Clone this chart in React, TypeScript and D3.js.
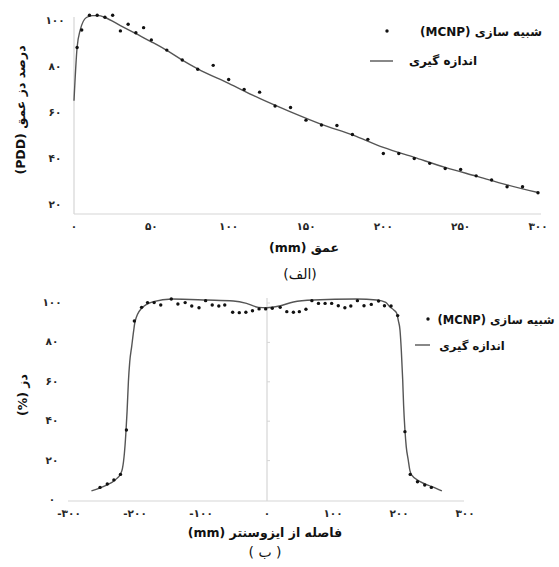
import React from "react";
import * as d3 from "d3";

// ---- Data: (الف) PDD ----
const topDepthMeas = [0, 2, 4, 8, 12, 16, 20, 30, 40, 50, 60, 70, 80, 100, 120, 140, 160, 180, 200, 220, 240, 260, 280, 300];
const topPddMeas = [64, 87, 94.5, 100, 100.8, 100.8, 100, 96.5, 93, 89.5, 85.8, 81.6, 77.8, 71.5, 65, 59.2, 53.8, 49.2, 43.8, 39.5, 35.2, 31.4, 27.6, 24.3];
const topDepthSim = [2, 5, 10, 15, 20, 25, 30, 35, 40, 45, 50, 60, 70, 80, 90, 100, 110, 120, 130, 140, 150, 160, 170, 180, 190, 200, 210, 220, 230, 240, 250, 260, 270, 280, 290, 300];
const topPddSim = [87, 94.6, 101, 101, 100.1, 101, 94.2, 97.1, 93.4, 95.6, 90.3, 85.9, 81.6, 77.6, 79.3, 73.2, 68.9, 67.7, 61.7, 61.1, 55.6, 53.5, 53.3, 49.4, 47.3, 41.2, 41.2, 39, 36.9, 34.7, 34.3, 31.5, 29.7, 26.8, 26.8, 24.2];
const topXTicks = [0, 50, 100, 150, 200, 250, 300];
const topYTicks = [20, 40, 60, 80, 100];

// ---- Data: (ب) profile ----
const profPosMeas = [-266, -243, -230, -222, -219, -216, -214, -212, -210, -208, -205, -202, -200, -190, -172, -144, -91, -51, -31, -13, 0, 19, 40, 70, 136, 166, 180, 186, 192, 196.5, 199, 201.5, 203.5, 205.6, 207, 209, 211, 214, 216.5, 219, 232, 250, 265];
const profDoseMeas = [4.6, 7.6, 10.2, 13.2, 16, 24, 33, 45, 60, 70, 78, 86, 90.5, 97.3, 100.7, 102, 101.5, 101, 99.8, 97.8, 97.6, 98.5, 100.5, 101.5, 102, 101.5, 100.3, 98.1, 96.5, 94.8, 91, 86.3, 76, 61, 48, 35.5, 27, 20.3, 15, 12.7, 9.3, 6.8, 4.6];
const profPosSim = [-253, -242, -232, -222, -213, -201, -190, -181, -171, -161, -145, -135, -124, -114, -103, -93, -83, -73, -64, -52, -42, -32, -22, -12, -2, 8, 20, 30, 40, 49, 59, 68, 78, 88, 98, 108, 118, 127, 137, 147, 158, 169, 178, 188, 198, 209, 217, 228, 239, 249];
const profDoseSim = [6.4, 8.1, 10.2, 13, 35.5, 90.9, 97.8, 100.2, 100.2, 99, 102, 99.5, 100.2, 98.5, 97.6, 101.2, 99, 98.5, 99, 95.3, 95.1, 95.3, 96.1, 97, 97, 97.3, 97.8, 95.6, 95.3, 95.6, 96.8, 101.2, 99.8, 99.8, 99.8, 98.6, 97.6, 98.5, 101.2, 98.6, 99.3, 101, 98.6, 98.5, 93.6, 34.7, 13, 9.3, 7.6, 6.4];
const botXTicks = [-300, -200, -100, 0, 100, 200, 300];
const botYTicks = [0, 20, 40, 60, 80, 100];

// ---- Text ----
const legendSim = "شبیه سازی (MCNP)";
const legendMeas = "اندازه گیری";
const topXTitle = "عمق (mm)";
const topYTitle = "درصد دز عمق (PDD)";
const topCaption = "(الف)";
const botXTitle = "فاصله از ایزوسنتر (mm)";
const botYTitle = "دز (%)";
const botCaption = "( ب )";

const faDigits = "۰۱۲۳۴۵۶۷۸۹";
const toFa = (n: number) => {
  const s = String(Math.abs(n)).replace(/[0-9]/g, (d) => faDigits[+d]);
  return n < 0 ? "-" + s : s;
};

const FONT = "'DejaVu Sans', sans-serif";
const AXIS = "#d6d6d6";
const LINE = "#555555";
const TXT = "#262626";

export default function App() {
  const xTop = d3.scaleLinear().domain([0, 300]).range([74, 538]);
  const yTop = d3.scaleLinear().domain([15, 100]).range([214, 17.5]);
  const xBot = d3.scaleLinear().domain([-300, 300]).range([69, 465]);
  const yBot = d3.scaleLinear().domain([0, 100]).range([500, 303]);

  const topLine = d3
    .line<number>()
    .x((_, i) => xTop(topDepthMeas[i]))
    .y((d) => yTop(d))
    .curve(d3.curveMonotoneX)(topPddMeas) as string;

  const botLine = d3
    .line<number>()
    .x((_, i) => xBot(profPosMeas[i]))
    .y((d) => yBot(d))
    .curve(d3.curveMonotoneX)(profDoseMeas) as string;

  const tickStyle = { fontFamily: FONT, fontSize: 10.5, fontWeight: 700, fill: TXT, letterSpacing: 1.5 } as const;
  const titleStyle = { fontFamily: FONT, fontSize: 12.5, fontWeight: 700, fill: "#111" } as const;
  const legendStyle = { fontFamily: FONT, fontSize: 12, fontWeight: 700, fill: "#111" } as const;
  const legendStyleB = { ...legendStyle, fontSize: 11.5 } as const;

  return (
    <svg
      width={559}
      height={567}
      style={{ position: "absolute", left: 0, top: 0, background: "#fff" }}
    >
      <rect x={0} y={0} width={559} height={567} fill="#fff" />

      {/* ===== Top chart ===== */}
      <line x1={74} x2={74} y1={17} y2={214} stroke={AXIS} strokeWidth={1.2} />
      <line x1={74} x2={541} y1={214} y2={214} stroke={AXIS} strokeWidth={1.2} />
      {topYTicks.map((t) => (
        <text key={"ty" + t} x={55} y={yTop(t) + 3} textAnchor="middle" dominantBaseline="middle" style={tickStyle}>
          {toFa(t)}
        </text>
      ))}
      {topXTicks.map((t) => (
        <text key={"tx" + t} x={xTop(t)} y={227} textAnchor="middle" dominantBaseline="middle" style={tickStyle}>
          {toFa(t)}
        </text>
      ))}
      <path d={topLine} fill="none" stroke={LINE} strokeWidth={1.4} />
      {topPddSim.map((v, i) => (
        <circle key={"ts" + i} cx={xTop(topDepthSim[i])} cy={yTop(v)} r={1.7} fill="#111" />
      ))}
      <text x={304} y={248} textAnchor="middle" dominantBaseline="middle" direction="rtl" style={titleStyle}>
        {topXTitle}
      </text>
      <text x={300} y={275} textAnchor="middle" dominantBaseline="middle" direction="rtl" style={{ ...titleStyle, fontSize: 14, fontWeight: 400 }}>
        {topCaption}
      </text>
      <text
        transform={`translate(21,110) rotate(-90)`}
        textAnchor="middle"
        dominantBaseline="middle"
        direction="rtl"
        style={titleStyle}
      >
        {topYTitle}
      </text>
      {/* legend top */}
      <circle cx={387} cy={31} r={1.7} fill="#111" />
      <text x={481} y={32} textAnchor="middle" dominantBaseline="middle" direction="rtl" style={legendStyle}>
        {legendSim}
      </text>
      <line x1={370} x2={393} y1={61} y2={61} stroke={LINE} strokeWidth={1.4} />
      <text x={443} y={61} textAnchor="middle" dominantBaseline="middle" direction="rtl" style={legendStyle}>
        {legendMeas}
      </text>

      {/* ===== Bottom chart ===== */}
      <line x1={xBot(0)} x2={xBot(0)} y1={298} y2={501} stroke={AXIS} strokeWidth={1.2} />
      {botYTicks.slice(1).map((t) => (
        <line key={"bm" + t} x1={xBot(0)} x2={xBot(0) + 3} y1={yBot(t)} y2={yBot(t)} stroke={AXIS} strokeWidth={1} />
      ))}
      <line x1={68} x2={464} y1={501} y2={501} stroke={AXIS} strokeWidth={1.2} />
      {botYTicks.map((t) => (
        <text key={"by" + t} x={52} y={yBot(t)} textAnchor="middle" dominantBaseline="middle" style={tickStyle}>
          {toFa(t)}
        </text>
      ))}
      {botXTicks.map((t) => (
        <text key={"bx" + t} x={xBot(t)} y={514} textAnchor="middle" dominantBaseline="middle" style={tickStyle}>
          {toFa(t)}
        </text>
      ))}
      <path d={botLine} fill="none" stroke={LINE} strokeWidth={1.4} />
      {profDoseSim.map((v, i) => (
        <circle key={"bs" + i} cx={xBot(profPosSim[i])} cy={yBot(v)} r={1.7} fill="#111" />
      ))}
      <text x={265} y={533} textAnchor="middle" dominantBaseline="middle" direction="rtl" style={titleStyle}>
        {botXTitle}
      </text>
      <text x={265} y={553} textAnchor="middle" dominantBaseline="middle" direction="rtl" style={{ ...titleStyle, fontSize: 14, fontWeight: 400 }}>
        {botCaption}
      </text>
      <text
        transform={`translate(23,395) rotate(-90)`}
        textAnchor="middle"
        dominantBaseline="middle"
        direction="rtl"
        style={titleStyle}
      >
        {botYTitle}
      </text>
      {/* legend bottom */}
      <circle cx={428} cy={319} r={1.7} fill="#111" />
      <text x={496} y={320} textAnchor="middle" dominantBaseline="middle" direction="rtl" style={legendStyleB}>
        {legendSim}
      </text>
      <line x1={415} x2={430} y1={345} y2={345} stroke={LINE} strokeWidth={1.4} />
      <text x={472} y={346} textAnchor="middle" dominantBaseline="middle" direction="rtl" style={legendStyleB}>
        {legendMeas}
      </text>
    </svg>
  );
}
